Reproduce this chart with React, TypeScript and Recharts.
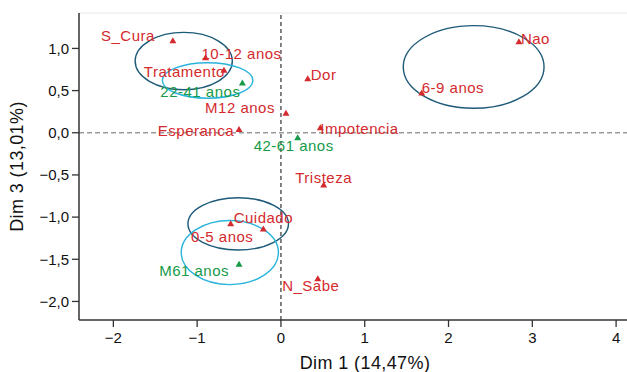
import {
  ScatterChart,
  Scatter,
  XAxis,
  YAxis,
  ReferenceLine,
  ReferenceArea,
} from 'recharts';

// categories (red) and age groups (green)
const RED_NAMES = [
  'S_Cura', '10-12 anos', 'Tratamento', 'M12 anos', 'Esperanca', 'Dor',
  'Impotencia', 'Nao', '6-9 anos', 'Tristeza', 'N_Sabe', 'Cuidado', '0-5 anos',
];
const RED_X = [-1.29, -0.9, -0.68, 0.06, -0.5, 0.32, 0.47, 2.84, 1.68, 0.51, 0.44, -0.6, -0.21];
const RED_Y = [1.09, 0.89, 0.74, 0.23, 0.04, 0.64, 0.06, 1.08, 0.47, -0.62, -1.73, -1.08, -1.14];

const GREEN_NAMES = ['22-41 anos', '42-61 anos', 'M61 anos'];
const GREEN_X = [-0.46, 0.2, -0.5];
const GREEN_Y = [0.59, -0.06, -1.56];

// confidence ellipses
const ELLIPSE_CX = [-1.16, -0.875, 2.3, -0.51, -0.61];
const ELLIPSE_CY = [0.85, 0.62, 0.78, -1.08, -1.42];
const ELLIPSE_RX = [0.58, 0.54, 0.84, 0.6, 0.58];
const ELLIPSE_RY = [0.34, 0.21, 0.49, 0.31, 0.38];
const ELLIPSE_KIND = ['dark', 'cyan', 'dark', 'dark', 'cyan'];

const X_TICKS = [-2, -1, 0, 1, 2, 3, 4];
const Y_TICKS = [-2, -1.5, -1, -0.5, 0, 0.5, 1];

const RED = '#d42a2e';
const GREEN = '#169a48';
const DARK = '#1d5a78';
const CYAN = '#2ab4dc';
const FONT = '"Liberation Sans", Arial, Helvetica, sans-serif';

// label placement relative to the marker: dx, dy, anchor
const LABEL_POS: Record<string, [number, number, string]> = {
  S_Cura: [-18, -5, 'end'],
  '10-12 anos': [-4, -4, 'start'],
  Tratamento: [1, 1, 'end'],
  '22-41 anos': [-2, 8, 'end'],
  'M12 anos': [-11, -6, 'end'],
  Esperanca: [-5, 1, 'end'],
  '42-61 anos': [-4, 8, 'middle'],
  Dor: [3, -4, 'start'],
  Impotencia: [0, 1, 'start'],
  Nao: [2, -3, 'start'],
  '6-9 anos': [0, -6, 'start'],
  Tristeza: [0, -8, 'middle'],
  N_Sabe: [-7, 7, 'middle'],
  Cuidado: [3, -6, 'start'],
  '0-5 anos': [-10, 8, 'end'],
  'M61 anos': [-10, 6, 'end'],
};

const redData = RED_NAMES.map((name, i) => ({ name, x: RED_X[i], y: RED_Y[i] }));
const greenData = GREEN_NAMES.map((name, i) => ({ name, x: GREEN_X[i], y: GREEN_Y[i] }));

const fmtX = (v: number) => (v < 0 ? `\u2212${Math.abs(v)}` : `${v}`);
const fmtY = (v: number) => {
  const s = Math.abs(v).toFixed(1).replace('.', ',');
  return v < 0 ? `\u2212${s}` : s;
};

const makeShape = (color: string) => (props: any) => {
  const { cx, cy, payload } = props;
  const [dx, dy, anchor] = LABEL_POS[payload.name] || [4, 0, 'start'];
  return (
    <g>
      <polygon
        points={`${cx - 3.5},${cy + 2.5} ${cx + 3.5},${cy + 2.5} ${cx},${cy - 3.5}`}
        fill={color}
      />
      <text
        x={cx + dx}
        y={cy + dy}
        textAnchor={anchor as any}
        dominantBaseline="central"
        fill={color}
        fontSize={15}
        letterSpacing={0.5}
        fontFamily={FONT}
      >
        {payload.name}
      </text>
    </g>
  );
};

const ellipseShape = (kind: string) => (props: any) => {
  const { x, y, width, height } = props;
  return (
    <ellipse
      cx={x + width / 2}
      cy={y + height / 2}
      rx={Math.abs(width) / 2}
      ry={Math.abs(height) / 2}
      fill="none"
      stroke={kind === 'dark' ? DARK : CYAN}
      strokeWidth={1.4}
    />
  );
};

export default function App() {
  return (
    <div style={{ position: 'absolute', left: 0, top: 0, background: '#fff' }}>
      <ScatterChart
        width={627}
        height={372}
        margin={{ top: 13, right: 0, bottom: 0, left: 0 }}
        style={{ fontFamily: FONT }}
      >
        <XAxis
          type="number"
          dataKey="x"
          domain={[-2.41, 4.13]}
          ticks={X_TICKS}
          tickFormatter={fmtX}
          allowDataOverflow
          height={52}
          tickSize={7}
          tickMargin={5}
          axisLine={{ stroke: '#333', strokeWidth: 1.5 }}
          tickLine={{ stroke: '#333', strokeWidth: 1.3 }}
          tick={{ fill: '#111', fontSize: 15 }}
          label={{
            value: 'Dim 1 (14,47%)',
            position: 'insideBottom',
            offset: 3,
            fill: '#111',
            fontSize: 18,
            letterSpacing: 0.4,
            dx: 12,
          }}
        />
        <YAxis
          type="number"
          dataKey="y"
          domain={[-2.22, 1.42]}
          ticks={Y_TICKS}
          tickFormatter={fmtY}
          allowDataOverflow
          width={79}
          tickSize={7}
          tickMargin={3}
          axisLine={{ stroke: '#333', strokeWidth: 1.5 }}
          tickLine={{ stroke: '#333', strokeWidth: 1.3 }}
          tick={{ fill: '#111', fontSize: 15 }}
          label={{
            value: 'Dim 3 (13,01%)',
            angle: -90,
            position: 'insideLeft',
            offset: 17,
            fill: '#111',
            fontSize: 18,
            letterSpacing: 0.4,
            style: { textAnchor: 'middle' },
          }}
        />
        <ReferenceLine y={1.42} stroke="#e6e6e6" strokeWidth={1} />
        <ReferenceLine y={0} stroke="#999" strokeWidth={1.5} strokeDasharray="5 3" />
        <ReferenceLine x={0} stroke="#444" strokeWidth={1.3} strokeDasharray="4 3" />
        {ELLIPSE_CX.map((cx, i) => (
          <ReferenceArea
            key={i}
            x1={cx - ELLIPSE_RX[i]}
            x2={cx + ELLIPSE_RX[i]}
            y1={ELLIPSE_CY[i] - ELLIPSE_RY[i]}
            y2={ELLIPSE_CY[i] + ELLIPSE_RY[i]}
            shape={ellipseShape(ELLIPSE_KIND[i])}
          />
        ))}
        <Scatter data={redData} shape={makeShape(RED)} isAnimationActive={false} />
        <Scatter data={greenData} shape={makeShape(GREEN)} isAnimationActive={false} />
      </ScatterChart>
    </div>
  );
}
